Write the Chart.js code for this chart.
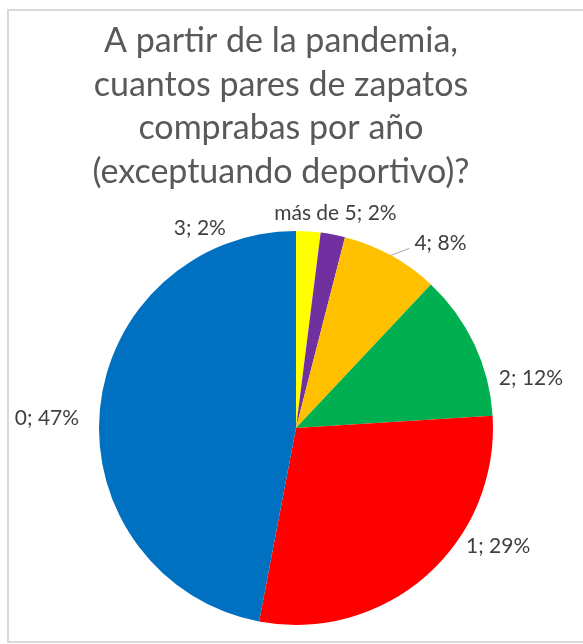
<!DOCTYPE html>
<html>
<head>
<meta charset="utf-8">
<title>Pares de zapatos por año</title>
<script src="https://cdn.jsdelivr.net/npm/chart.js"></script>
<style>
  html, body { margin: 0; padding: 0; background: #fff; overflow: hidden; }
  #wrap { position: relative; width: 583px; height: 644px; }
  /* light grey chart frame, right edge runs off the window */
  #frame { position: absolute; left: 7px; top: 9px; width: 620px; height: 630px; border: 2px solid #d9d9d9; }
  canvas { position: absolute; left: 0; top: 0; }
</style>
</head>
<body>
<div id="wrap">
  <div id="frame"></div>
  <canvas id="pie" width="583" height="644"></canvas>
</div>
<script>
// data, clockwise from 12 o'clock
var categories = ['3', 'más de 5', '4', '2', '1', '0'];
var percents = [2, 2, 8, 12, 29, 47];
var titleLines = ['A partir de la pandemia,', 'cuantos pares de zapatos', 'comprabas por año', '(exceptuando deportivo)?'];

var sliceColors = ['#FFFF00', '#7030A0', '#FFC000', '#00B050', '#FF0000', '#0070C0'];

// Excel "best fit" label placement: shift from the default spot just outside each slice
var labelNudge = [[-110, 21], [-2, 2], [38, 9], [35, 44], [56, -48], [-29, 11]];
var labelLeader = [false, false, true, false, false, false];

var titlePlugin = {
  id: 'excelTitle',
  beforeDraw: function(chart) {
    var ctx = chart.ctx;
    ctx.save();
    ctx.fillStyle = '#595959';
    ctx.font = '34px Lato';
    ctx.textAlign = 'center';
    ctx.textBaseline = 'alphabetic';
    titleLines.forEach(function(line, i) {
      ctx.fillText(line, 281, 52 + i * 43.7);
    });
    ctx.restore();
  }
};

var labelPlugin = {
  id: 'sliceLabels',
  afterDatasetsDraw: function(chart) {
    var ctx = chart.ctx;
    var meta = chart.getDatasetMeta(0);
    ctx.save();
    ctx.font = '21px Lato';
    ctx.fillStyle = '#404040';
    ctx.textAlign = 'center';
    ctx.textBaseline = 'middle';
    meta.data.forEach(function(arc, i) {
      var p = arc.getProps(['x', 'y', 'startAngle', 'endAngle', 'outerRadius'], true);
      var mid = (p.startAngle + p.endAngle) / 2;
      var R = p.outerRadius + 24;
      var x = p.x + Math.cos(mid) * R + labelNudge[i][0];
      var y = p.y + Math.sin(mid) * R + labelNudge[i][1];
      var text = categories[i] + '; ' + percents[i] + '%';
      if (labelLeader[i]) {
        var w = ctx.measureText(text).width;
        ctx.strokeStyle = '#a6a6a6';
        ctx.lineWidth = 1;
        ctx.beginPath();
        ctx.moveTo(p.x + Math.cos(mid) * p.outerRadius, p.y + Math.sin(mid) * p.outerRadius);
        ctx.lineTo(x - w / 2 - 5, y + 5);
        ctx.stroke();
      }
      ctx.fillText(text, x, y);
    });
    ctx.restore();
  }
};

new Chart(document.getElementById('pie'), {
  type: 'pie',
  data: {
    labels: categories,
    datasets: [{
      data: percents,
      backgroundColor: sliceColors,
      borderWidth: 0,
      hoverOffset: 0,
      offset: 0
    }]
  },
  options: {
    responsive: false,
    animation: false,
    layout: { padding: { top: 231, left: 99, right: 90, bottom: 19 } },
    plugins: {
      legend: { display: false },
      title: { display: false },
      tooltip: { enabled: false }
    }
  },
  plugins: [titlePlugin, labelPlugin]
});
</script>
</body>
</html>
